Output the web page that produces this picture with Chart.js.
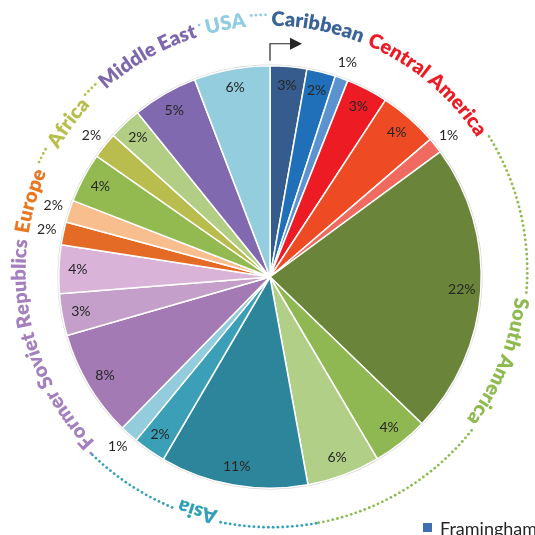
<!DOCTYPE html>
<html>
<head>
<meta charset="utf-8">
<script src="https://cdn.jsdelivr.net/npm/chart.js@4.4.1/dist/chart.umd.min.js"></script>
<style>
  html, body { margin: 0; padding: 0; background: #fff; }
  #wrap { width: 535px; height: 535px; }
</style>
</head>
<body>
<div id="wrap"><canvas id="pie" width="535" height="535"></canvas></div>
<script>
// regions written round the pie, clockwise from the arrow at the top
const regions = ['Caribbean', 'Central America', 'South America', 'Asia', 'Former Soviet Republics', 'Europe', 'Africa', 'Middle East', 'USA'];
const regionColors = ['#3b6496', '#ed1c24', '#8dbb4f', '#31a1b9', '#a480be', '#e87722', '#b6bf4a', '#7e68ad', '#8fcde0'];

// one entry per slice
const sliceRegion = [0, 0, 0, 1, 1, 1, 2, 2, 2, 3, 3, 3, 4, 4, 4, 5, 5, 6, 6, 6, 7, 8];
const shares = [2.8, 2.2, 1.0, 3.2, 4.5, 1.2, 22.3, 4.3, 5.6, 11.3, 2.5, 1.4, 8.2, 3.2, 3.7, 1.75, 1.7, 3.8, 2.0, 2.5, 5.0, 5.8];
const shareLabels = ['3%', '2%', '1%', '3%', '4%', '1%', '22%', '4%', '6%', '11%', '2%', '1%', '8%', '3%', '4%', '2%', '2%', '4%', '2%', '2%', '5%', '6%'];
const sliceColors = ['#365c8d', '#1f70b8', '#5a93d0', '#ed1c24', '#ee4b25', '#f06a5f', '#6a8539', '#8fb852', '#b2cf87',
  '#2c859b', '#3b9fb7', '#93cddd', '#a37ab4', '#c49fca', '#d9b4d8', '#e46b25', '#f9be8e', '#92ba50', '#b8bd4e', '#b2ce84',
  '#8069ae', '#93cdde'];
const seriesName = 'Framingham';

// small slices get their label outside the pie
const outsideBelow = 2.1;

const ringLabels = {
  id: 'ringLabels',
  beforeDatasetsDraw(chart) {
    const arc = chart.getDatasetMeta(0).data[0];
    const ctx = chart.ctx;
    ctx.save();
    ctx.beginPath();
    ctx.arc(arc.x, arc.y, arc.outerRadius + 0.5, 0, Math.PI * 2);
    ctx.strokeStyle = 'rgba(0,0,0,0.18)';
    ctx.lineWidth = 1.5;
    ctx.stroke();
    ctx.restore();
  },
  afterDatasetsDraw(chart) {
    const ctx = chart.ctx;
    const arcs = chart.getDatasetMeta(0).data;
    const cx = arcs[0].x, cy = arcs[0].y, R = arcs[0].outerRadius;

    // percentages
    ctx.save();
    ctx.font = '14px Lato';
    ctx.fillStyle = '#262626';
    ctx.textAlign = 'center';
    ctx.textBaseline = 'middle';
    arcs.forEach((arc, i) => {
      const a = (arc.startAngle + arc.endAngle) / 2;
      const r = shares[i] < outsideBelow ? R * 1.08 : R * 0.91;
      ctx.fillText(shareLabels[i], cx + r * Math.cos(a), cy + r * Math.sin(a));
    });

    // region names bent round the pie
    const tx = cx + 1, ty = cy - 6, rt = R + 34, rd = R + 45;
    ctx.font = '800 20px Lato';
    ctx.textBaseline = 'alphabetic';
    const spans = regions.map((name, g) => {
      const idx = sliceRegion.map((s, i) => s === g ? i : -1).filter(i => i >= 0);
      return { start: arcs[idx[0]].startAngle, end: arcs[idx[idx.length - 1]].endAngle };
    });
    const gap = 4 / rt, space = 6 / rt;
    let prevEnd = -Infinity;
    const placed = regions.map((name, g) => {
      let w = 0;
      for (const ch of name) w += ctx.measureText(ch).width;
      w /= rt;
      let s = (spans[g].start + spans[g].end) / 2 - w / 2;
      if (s < prevEnd + space) s = prevEnd + space;
      prevEnd = s + w;
      return { s, e: s + w };
    });

    const dots = (a0, a1, color) => {
      if (a1 - a0 <= 0) return;
      const step = 4.8 / rd;
      const n = Math.floor((a1 - a0) / step);
      const off = (a1 - a0 - n * step) / 2;
      ctx.fillStyle = color;
      for (let k = 0; k <= n; k++) {
        const a = a0 + off + k * step;
        ctx.beginPath();
        ctx.arc(tx + rd * Math.cos(a), ty + rd * Math.sin(a), 1.4, 0, Math.PI * 2);
        ctx.fill();
      }
    };

    const last = regions.length - 1;
    regions.forEach((name, g) => {
      const prevE = g > 0 ? placed[g - 1].e : placed[last].e - Math.PI * 2;
      const nextS = g < last ? placed[g + 1].s : placed[0].s + Math.PI * 2;
      dots(Math.max(spans[g].start, prevE + gap), placed[g].s - gap, regionColors[g]);
      dots(placed[g].e + gap, Math.min(spans[g].end, nextS - gap), regionColors[g]);

      ctx.fillStyle = regionColors[g];
      let a = placed[g].s;
      for (const ch of name) {
        const cw = ctx.measureText(ch).width / rt;
        const am = a + cw / 2;
        ctx.save();
        ctx.translate(tx + rt * Math.cos(am), ty + rt * Math.sin(am));
        ctx.rotate(am + Math.PI / 2);
        ctx.fillText(ch, 0, 0);
        ctx.restore();
        a += cw;
      }
    });

    // start arrow
    const top = cy - R - 5;
    ctx.strokeStyle = '#262626';
    ctx.fillStyle = '#262626';
    ctx.lineWidth = 1.2;
    ctx.beginPath();
    ctx.moveTo(cx, top);
    ctx.lineTo(cx, top - 17);
    ctx.lineTo(cx + 22, top - 17);
    ctx.stroke();
    ctx.beginPath();
    ctx.moveTo(cx + 32, top - 17);
    ctx.lineTo(cx + 20, top - 23);
    ctx.lineTo(cx + 20, top - 11);
    ctx.closePath();
    ctx.fill();

    // legend, cut by the edge of the picture
    ctx.fillStyle = '#3e6eb1';
    ctx.fillRect(chart.width - 112, chart.height - 12, 9, 9);
    ctx.fillStyle = '#262626';
    ctx.font = '18px Lato';
    ctx.textAlign = 'left';
    ctx.fillText(seriesName, chart.width - 95, chart.height);
    ctx.restore();
  }
};

new Chart(document.getElementById('pie'), {
  type: 'pie',
  data: {
    labels: sliceRegion.map(g => regions[g]),
    datasets: [{
      label: seriesName,
      data: shares,
      backgroundColor: sliceColors,
      borderColor: '#ffffff',
      borderWidth: 1.5
    }]
  },
  options: {
    responsive: false,
    animation: false,
    events: [],
    layout: { padding: { left: 58, right: 53, top: 65, bottom: 46 } },
    plugins: {
      legend: { display: false },
      tooltip: { enabled: false }
    }
  },
  plugins: [ringLabels]
});
</script>
</body>
</html>
